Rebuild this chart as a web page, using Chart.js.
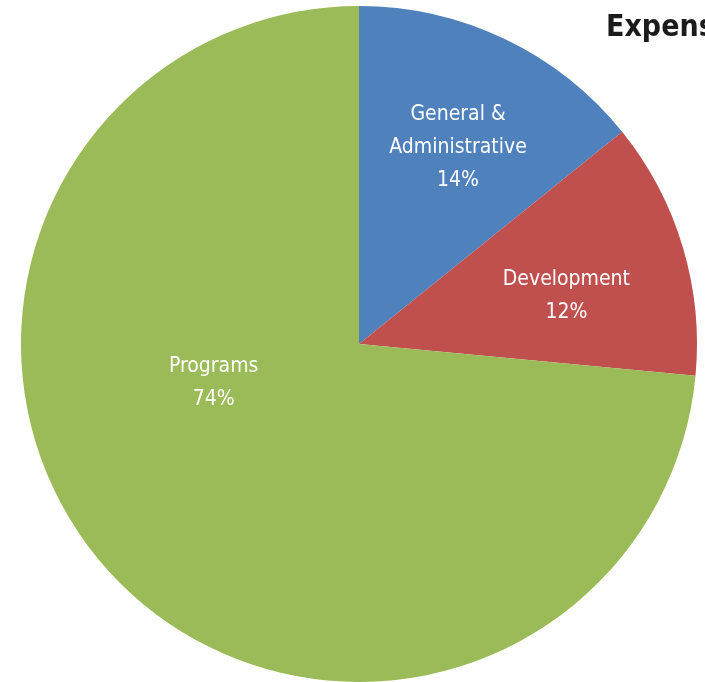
<!DOCTYPE html>
<html>
<head>
<meta charset="utf-8">
<script src="https://cdn.jsdelivr.net/npm/chart.js@4"></script>
<style>
    body{ margin:0; background:#fff; overflow:hidden; }
    .wrap{ position:relative; width:705px; height:682px; }
    .title{
        position:absolute; left:606px; top:8px;
        font-family:"Liberation Sans Narrow","DejaVu Sans Condensed",sans-serif;
        font-weight:bold; font-size:30px; color:#1b1b1b; white-space:nowrap;
    }
</style>
</head>
<body>
<div class="wrap">
    <canvas id="pie" width="705" height="682"></canvas>
    <div class="title">Expenses</div>
</div>
<script>
// slices, clockwise from the top
const categories = ["General &\nAdministrative", "Development", "Programs"]
const values = [14.2, 12.3, 73.5]
const colors = ["#4F81BD", "#C0504D", "#9BBB59"]

// where each label sits: angle from top (deg, clockwise) and fraction of radius
const labelSpots = [
    {angle: 26.8, dist: 0.65},
    {angle: 76.9, dist: 0.63},
    {angle: 255, dist: 0.445}
]

const sliceLabels = {
    id: "sliceLabels",
    afterDatasetsDraw(chart){
        const ctx = chart.ctx
        const meta = chart.getDatasetMeta(0)
        const total = values.reduce((a, b) => a + b, 0)
        ctx.save()
        ctx.fillStyle = "#ffffff"
        ctx.font = "21px 'Liberation Sans Narrow', 'DejaVu Sans Condensed', sans-serif"
        ctx.textAlign = "center"
        ctx.textBaseline = "middle"
        meta.data.forEach((arc, i) => {
            const spot = labelSpots[i]
            const a = spot.angle * Math.PI / 180
            const cx = arc.x + Math.sin(a) * arc.outerRadius * spot.dist
            const cy = arc.y - Math.cos(a) * arc.outerRadius * spot.dist
            const lines = categories[i].split("\n")
            lines.push(Math.round(values[i] / total * 100) + "%")
            const lh = 33
            const y0 = cy - (lines.length - 1) * lh / 2
            lines.forEach((t, j) => ctx.fillText(t, cx, y0 + j * lh))
        })
        ctx.restore()
    }
}

new Chart(document.getElementById("pie"), {
    type: "pie",
    data: {
        labels: categories,
        datasets: [{
            data: values,
            backgroundColor: colors,
            borderWidth: 0
        }]
    },
    options: {
        responsive: false,
        animation: false,
        layout: {
            padding: {left: 21, right: 8, top: 6, bottom: 0}
        },
        plugins: {
            legend: {display: false},
            tooltip: {enabled: false}
        }
    },
    plugins: [sliceLabels]
})
</script>
</body>
</html>
